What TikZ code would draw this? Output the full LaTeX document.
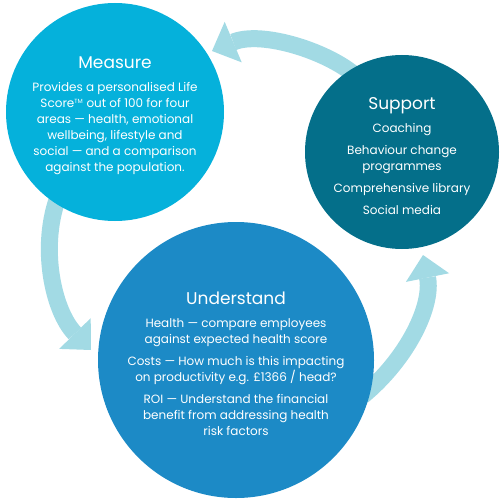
\documentclass[tikz,border=0pt]{standalone}
\usepackage{fontspec}
\setmainfont{Poppins}
\usepackage{xcolor}
\usetikzlibrary{arrows.meta,backgrounds,calc}
\definecolor{measureblue}{HTML}{05B1DB}
\definecolor{understandblue}{HTML}{1C8AC6}
\definecolor{supportteal}{HTML}{046F8A}
\definecolor{flowblue}{HTML}{A2DAE4}
\tikzset{
	basic/.style = {circle, inner sep=0pt, align=center, text=white, font=\fontsize{12}{16}\selectfont},
	measure node/.style = {basic, fill=measureblue, minimum size=218pt},
	support node/.style = {basic, fill=supportteal, minimum size=194pt},
	understand node/.style = {basic, fill=understandblue, minimum size=276pt},
	flow/.style = {draw=flowblue, line width=17pt, -{Triangle[width=44pt,length=23pt,line width=0pt]}}
}
\newcommand{\stagetitle}[1]{{\fontsize{17}{23}\selectfont\rule{0pt}{20pt}#1}\\[7pt]}

\begin{document}
\begin{tikzpicture}[x=1pt, y=-1pt]
	\useasboundingbox (0,0) rectangle (500,500);
	
	% the three stages of the cycle
	\node[measure node] (measure) at (115,112) {\stagetitle{Measure}
		Provides a personalised Life\\
		Score\textsuperscript{\fontsize{6}{6}\selectfont TM} out of 100 for four\\
		areas --- health, emotional\\
		wellbeing, lifestyle and\\
		social --- and a comparison\\
		against the population.};
	\node[support node] (support) at (402,152) {\stagetitle{Support}
		Coaching\\[6pt]
		Behaviour change\\
		programmes\\[6pt]
		Comprehensive library\\[6pt]
		Social media};
	\node[understand node] (understand) at (236,360) {\stagetitle{Understand}
		Health --- compare employees\\
		against expected health score\\[6pt]
		Costs --- How much is this impacting\\
		on productivity e.g. £1366 / head?\\[6pt]
		ROI --- Understand the financial\\
		benefit from addressing health\\
		risk factors};
	
	% arrows running behind the circles
	\coordinate (to measure) at (212,51);
	\coordinate (to understand) at (91,350);
	\coordinate (to support) at (423,255);
	\begin{scope}[on background layer]
		\draw[flow] ($(support.center)!0.9!(support.121)$) .. controls +(-27,-25) and +(50,-21) .. (to measure);
		\draw[flow] ($(measure.center)!0.85!(measure.235)$) .. controls +(-24,52) and +(-39,-40) .. (to understand);
		\draw[flow] ($(understand.center)!0.95!(understand.-16)$) .. controls +(46,-38) and +(10,50) .. (to support);
	\end{scope}
\end{tikzpicture}
\end{document}
